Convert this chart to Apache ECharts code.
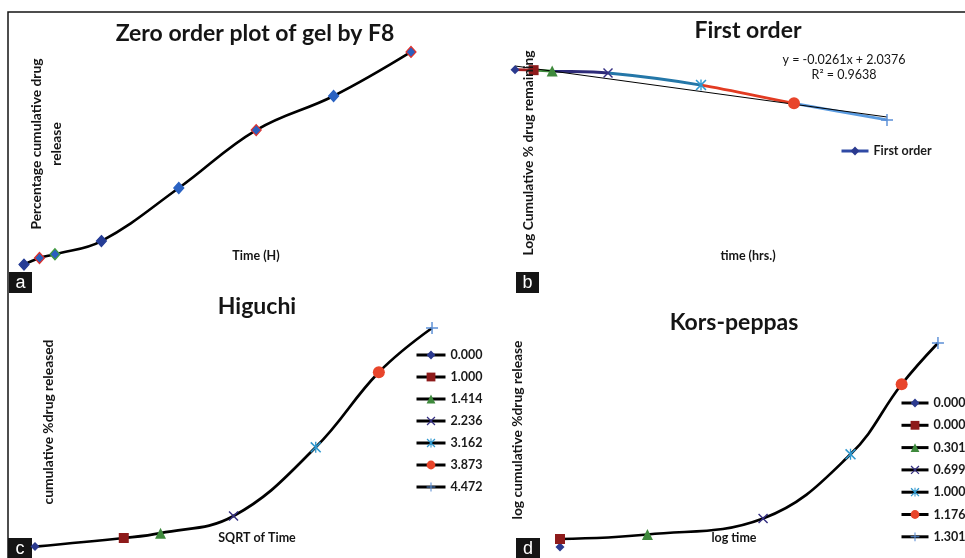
<!DOCTYPE html>
<html>
<head>
<meta charset="utf-8">
<title>Release kinetics of gel F8</title>
<script src="https://cdn.jsdelivr.net/npm/echarts@6/dist/echarts.min.js"></script>
<style>
html, body { margin: 0; padding: 0; background: #fff; }
#main { width: 965px; height: 558px; }
</style>
</head>
<body>
<div id="main"></div>
<script>
// a - zero order
var zeroHours = [0, 1, 2, 5, 10, 15, 20, 25];
var zeroRelease = [2.5, 5.5, 7.2, 13.2, 37.3, 63.6, 79.1, 99.1];
// b - first order
var firstHours = [0, 1, 2, 5, 10, 15, 20];
var logRemaining = [2.0, 1.995, 1.986, 1.966, 1.843, 1.656, 1.485];
var trendSlope = -0.0261, trendIntercept = 2.0376, trendR2 = 0.9638;
// c - higuchi
var sqrtTime = [0, 1, 1.414, 2.236, 3.162, 3.873, 4.472];
var higuchiRelease = [2.5, 5.5, 7.2, 13.2, 37.3, 63.6, 79.1];
// d - korsmeyer-peppas
var logTime = [0, 0, 0.301, 0.699, 1.0, 1.176, 1.301];
var peppasRelease = [2.5, 5.5, 7.2, 13.2, 37.3, 63.6, 79.1];

// marker styles (excel like)
var X_PATH = 'path://M0,1L1,0L5,4L9,0L10,1L6,5L10,9L9,10L5,6L1,10L0,9L4,5Z';
var STAR_PATH = 'path://M0,1L1,0L4.4,3.4L4.4,0L5.6,0L5.6,3.4L9,0L10,1L6,5L10,9L9,10L5.6,6.6L5.6,10L4.4,10L4.4,6.6L1,10L0,9L4,5Z';
var PLUS_PATH = 'path://M4.4,0H5.6V4.4H10V5.6H5.6V10H4.4V5.6H0V4.4H4.4Z';
var shapes = ['diamond', 'rect', 'triangle', X_PATH, STAR_PATH, 'circle', PLUS_PATH];
var colors = ['#2b3a8f', '#8e1b1b', '#3f8a3d', '#352f82', '#2f98cf', '#e8452b', '#5b8fd6'];
var sizes = [9, 10, 11, 10, 11, 12, 12];
var segColors = ['#2b3a8f', '#a11d1d', '#3f8a3d', '#2d2a78', '#2477a8', '#e23b22', '#5a9be0'];
var aFill = ['#263d96', '#2a5fbf', '#2a5fbf', '#263d96', '#2a62c2', '#2a5fbf', '#2a62c2', '#2a5fbf'];
var aBorder = ['#263d96', '#e0302a', '#3f9a3d', '#263d96', '#2a62c2', '#e0302a', '#2a62c2', '#e0302a'];

var FONT = 'Lato, "Open Sans", sans-serif';

function pts(xs, ys) {
	return xs.map(function (x, i) { return [x, ys[i]]; });
}

function txt(text, x, y, size, weight, rot, extra) {
	var el = {
		type: 'text', x: x, y: y, z: 100,
		rotation: rot ? Math.PI / 2 : 0,
		style: {
			text: text,
			font: (weight || 'bold') + ' ' + size + 'px ' + FONT,
			fill: '#151515',
			align: 'center', verticalAlign: 'middle',
			textAlign: 'center', textVerticalAlign: 'middle'
		}
	};
	if (extra) { for (var k in extra) { el.style[k] = extra[k]; } }
	return el;
}

function tag(letter, x, y, w, h) {
	return {
		type: 'group', z: 100,
		children: [
			{ type: 'rect', shape: { x: x, y: y, width: w, height: h }, style: { fill: '#151515' } },
			{ type: 'text', x: x + w / 2, y: y + h / 2 + 1, style: { text: letter, font: '18px "Liberation Sans", Arial, sans-serif', fill: '#fff', align: 'center', verticalAlign: 'middle', textAlign: 'center', textVerticalAlign: 'middle' } }
		]
	};
}

var series = [];

// a
series.push({
	type: 'line', xAxisIndex: 0, yAxisIndex: 0, smooth: 0.4,
	data: pts(zeroHours, zeroRelease).map(function (p, i) {
		return { value: p, itemStyle: { color: aFill[i], borderColor: aBorder[i], borderWidth: 1.2 } };
	}),
	symbol: 'diamond', symbolSize: [10, 11],
	lineStyle: { color: '#000', width: 2.6 }
});

// b
var bLineIndex = series.length;
series.push({
	type: 'line', xAxisIndex: 1, yAxisIndex: 1, smooth: 0.3, showSymbol: false,
	data: pts(firstHours, logRemaining),
	lineStyle: { width: 2.8 }
});
var tLast = firstHours[firstHours.length - 1];
series.push({
	type: 'line', xAxisIndex: 1, yAxisIndex: 1, showSymbol: false, z: 3,
	data: [[firstHours[0], trendIntercept + trendSlope * firstHours[0]], [tLast, trendIntercept + trendSlope * tLast]],
	lineStyle: { color: '#000', width: 1 }
});
series.push({
	type: 'line', name: 'First order', xAxisIndex: 1, yAxisIndex: 1, z: 4,
	symbol: 'diamond', symbolSize: 9,
	itemStyle: { color: '#2b3a8f' },
	lineStyle: { color: '#2f4aa5', width: 3, opacity: 0 },
	data: pts(firstHours, logRemaining).map(function (p, i) {
		return { value: p, symbol: shapes[i], symbolSize: sizes[i], itemStyle: { color: colors[i] } };
	})
});

// c
series.push({
	type: 'line', xAxisIndex: 2, yAxisIndex: 2, smooth: 0.4, showSymbol: false,
	data: pts(sqrtTime, higuchiRelease),
	lineStyle: { color: '#000', width: 2.7 }
});
sqrtTime.forEach(function (x, i) {
	series.push({
		type: 'line', name: 'c' + i, xAxisIndex: 2, yAxisIndex: 2, z: 4,
		data: [[x, higuchiRelease[i]]],
		symbol: shapes[i], symbolSize: sizes[i],
		itemStyle: { color: colors[i] },
		lineStyle: { color: '#000', width: 3 }
	});
});

// d (log 0 point left off the curve)
series.push({
	type: 'line', xAxisIndex: 3, yAxisIndex: 3, smooth: 0.4, showSymbol: false,
	data: pts(logTime.slice(1), peppasRelease.slice(1)),
	lineStyle: { color: '#000', width: 2.7 }
});
logTime.forEach(function (x, i) {
	series.push({
		type: 'line', name: 'd' + i, xAxisIndex: 3, yAxisIndex: 3, z: 4,
		data: [[x, peppasRelease[i]]],
		symbol: shapes[i], symbolSize: sizes[i],
		itemStyle: { color: colors[i] },
		lineStyle: { color: '#000', width: 3 }
	});
});

var pieces = firstHours.map(function (t, i) {
	if (i === 0) { return { lte: t, color: segColors[0] }; }
	return { gt: firstHours[i - 1], lte: t, color: segColors[i] };
});

function axes(n, mins, maxs) {
	var out = [];
	for (var i = 0; i < n; i++) {
		out.push({ type: 'value', gridIndex: i, min: mins[i], max: maxs[i], show: false });
	}
	return out;
}

var legendText = { fontFamily: FONT, fontSize: 12.5, fontWeight: 'bold', color: '#1a1a1a', lineHeight: 14 };
var blackLegendLine = { color: '#000', width: 3, opacity: 1 };

var option = {
	animation: false,
	backgroundColor: '#fff',
	grid: [
		{ left: 24, top: 50, width: 387, height: 220.1 },
		{ left: 515, top: 59.9, width: 372, height: 68.4 },
		{ left: 35, top: 268.4, width: 443.9, height: 285.3 },
		{ left: 560, top: 287.35, width: 392.2, height: 266.3 }
	],
	xAxis: axes(4, [0, 0, 0, 0], [25, 20, 5, 1.35]),
	yAxis: axes(4, [0, 1.4, 0, 0], [100, 2.1, 100, 100]),
	visualMap: [{
		type: 'piecewise', show: false, seriesIndex: bLineIndex, dimension: 0,
		pieces: pieces
	}],
	legend: [
		{
			data: ['First order'], left: 840, top: 144, orient: 'vertical', padding: 0,
			itemWidth: 27, itemHeight: 11, textStyle: legendText,
			lineStyle: { opacity: 1, color: '#2f4aa5', width: 3 }
		},
		{
			data: sqrtTime.map(function (x, i) { return 'c' + i; }),
			left: 415, top: 348, orient: 'vertical', padding: 0, itemGap: 8,
			itemWidth: 29, itemHeight: 11, textStyle: legendText, lineStyle: blackLegendLine,
			formatter: function (n) { return sqrtTime[+n.slice(1)].toFixed(3); }
		},
		{
			data: logTime.map(function (x, i) { return 'd' + i; }),
			left: 900, top: 396, orient: 'vertical', padding: 0, itemGap: 8.3,
			itemWidth: 27, itemHeight: 11, textStyle: legendText, lineStyle: blackLegendLine,
			formatter: function (n) { return logTime[+n.slice(1)].toFixed(3); }
		}
	],
	graphic: [
		{ type: 'polyline', z: 100, shape: { points: [[965, 12], [8, 12], [8, 558]] }, style: { stroke: '#151515', lineWidth: 1.5, fill: null } },
		txt('Zero order plot of gel by F8', 255, 34, 23),
		txt('First order', 748, 31, 23),
		txt('Higuchi', 257, 307, 23),
		txt('Kors-peppas', 734, 323, 23),
		txt('Percentage cumulative drug\nrelease', 47, 144, 13.8, 'bold', true, { lineHeight: 20 }),
		txt('Time (H)', 256, 256, 12.5),
		txt('Log Cumulative % drug remaining', 529, 153, 13.8, 'bold', true),
		txt('time (hrs.)', 748, 256, 12.5),
		txt('cumulative %drug released', 49, 422, 13.8, 'bold', true),
		txt('SQRT of Time', 257, 538, 12.5),
		txt('log cumulative %drug release', 518, 430, 13.8, 'bold', true),
		txt('log time', 734, 538, 12.5),
		txt('y = ' + trendSlope + 'x + ' + trendIntercept, 844, 60, 12.5, 'normal'),
		txt('R\u00b2 = ' + trendR2, 844, 75, 12.5, 'normal'),
		tag('a', 9, 272, 23, 21),
		tag('b', 516, 272, 23, 21),
		tag('c', 8, 538, 24, 20),
		tag('d', 516, 538, 24, 20)
	],
	series: series
};

var chart = echarts.init(document.getElementById('main'), null, { renderer: 'canvas' });
chart.setOption(option);
</script>
</body>
</html>
